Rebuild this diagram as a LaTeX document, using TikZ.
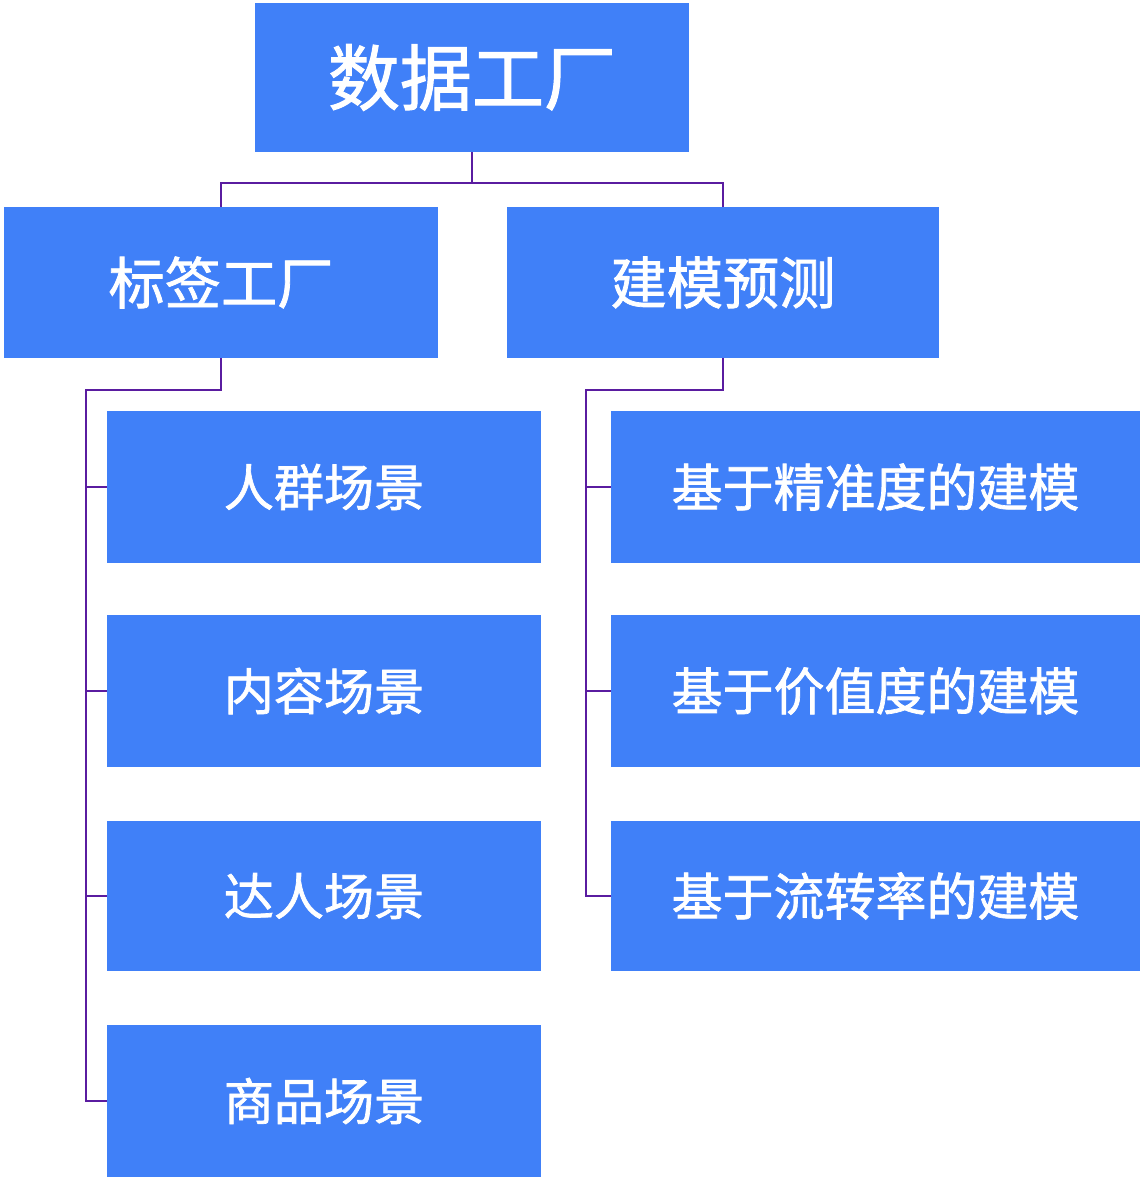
\documentclass[tikz,border=0pt]{standalone}
\usepackage{fontspec}
\setmainfont{Noto Sans CJK SC}[FakeBold=1.4]
\usepackage{tikz}

\definecolor{boxblue}{HTML}{4080F8}
\definecolor{linkpurple}{HTML}{5A1CA0}

\tikzset{
    box/.style={fill=boxblue, draw=none, rectangle, text=white, inner sep=0pt},
    link/.style={draw=linkpurple, line width=1.2pt},
}

\begin{document}
\begin{tikzpicture}[x=0.02cm, y=-0.02cm]
    \useasboundingbox[fill=white] (0, 0) rectangle (1140, 1180);

    \node[box, minimum width=8.68cm, minimum height=2.98cm, font=\fontsize{41pt}{45pt}\selectfont] at (472, 77.5) (root) {数据工厂};
    \node[box, minimum width=8.68cm, minimum height=3.02cm, font=\fontsize{32pt}{36pt}\selectfont] at (221, 282.5) (L1N1) {标签工厂};
    \node[box, minimum width=8.64cm, minimum height=3.02cm, font=\fontsize{32pt}{36pt}\selectfont] at (723, 282.5) (L1N2) {建模预测};

    \node[box, minimum width=8.68cm, minimum height=3.04cm, font=\fontsize{28.5pt}{32pt}\selectfont] at (324, 487) (L2N1) {人群场景};
    \node[box, minimum width=8.68cm, minimum height=3.04cm, font=\fontsize{28.5pt}{32pt}\selectfont] at (324, 691) (L2N2) {内容场景};
    \node[box, minimum width=8.68cm, minimum height=3.00cm, font=\fontsize{28.5pt}{32pt}\selectfont] at (324, 896) (L2N3) {达人场景};
    \node[box, minimum width=8.68cm, minimum height=3.04cm, font=\fontsize{28.5pt}{32pt}\selectfont] at (324, 1101) (L2N4) {商品场景};

    \node[box, minimum width=10.58cm, minimum height=3.04cm, font=\fontsize{29pt}{32pt}\selectfont] at (875.5, 487) (L2N5) {基于精准度的建模};
    \node[box, minimum width=10.58cm, minimum height=3.04cm, font=\fontsize{29pt}{32pt}\selectfont] at (875.5, 691) (L2N6) {基于价值度的建模};
    \node[box, minimum width=10.58cm, minimum height=3.00cm, font=\fontsize{29pt}{32pt}\selectfont] at (875.5, 896) (L2N7) {基于流转率的建模};

    % junction points of the elbow connectors
    \coordinate (J0) at (472, 183);
    \coordinate (J1) at (86, 390);
    \coordinate (J2) at (586, 390);

    \draw[link] (root.south) -- (J0);
    \draw[link] (L1N1.north) |- (J0) -| (L1N2.north);

    \draw[link] (L1N1.south) |- (J1) |- (L2N4.west);
    \draw[link] (L2N1.west) -- (L2N1.west -| J1);
    \draw[link] (L2N2.west) -- (L2N2.west -| J1);
    \draw[link] (L2N3.west) -- (L2N3.west -| J1);

    \draw[link] (L1N2.south) |- (J2) |- (L2N7.west);
    \draw[link] (L2N5.west) -- (L2N5.west -| J2);
    \draw[link] (L2N6.west) -- (L2N6.west -| J2);
\end{tikzpicture}
\end{document}
